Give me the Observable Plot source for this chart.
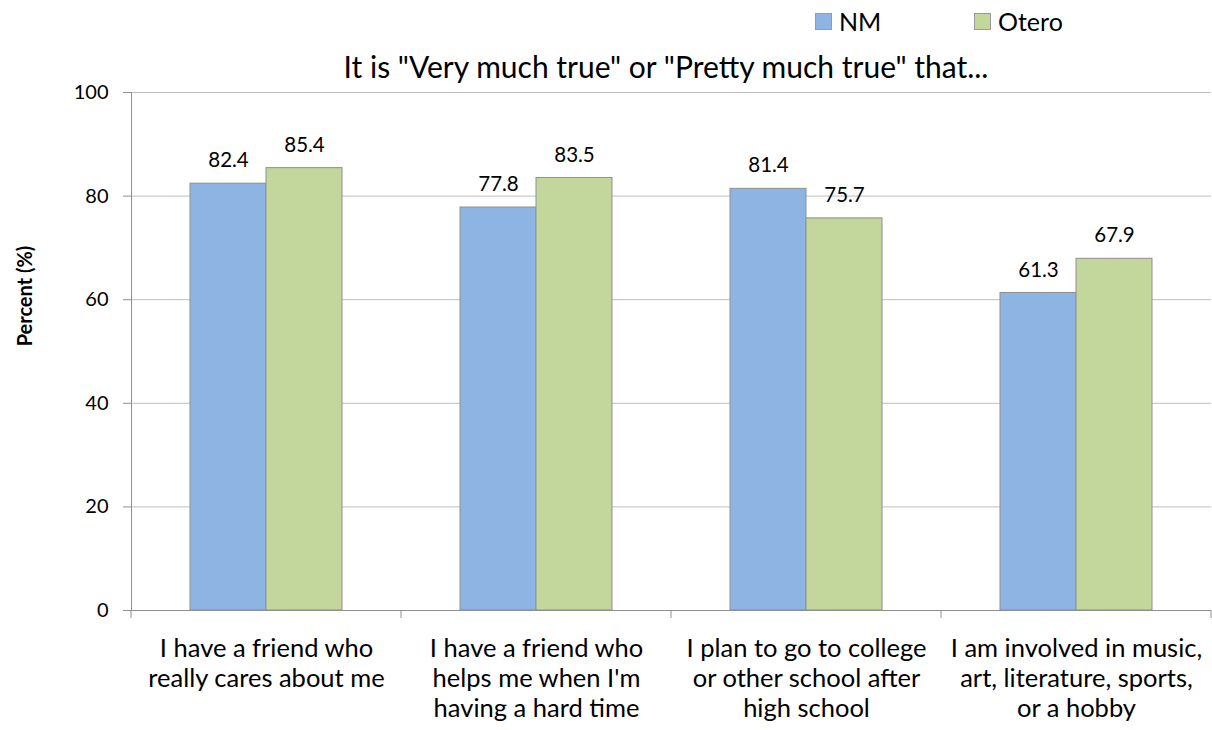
<!DOCTYPE html>
<html>
<head>
<meta charset="utf-8">
<script src="https://cdn.jsdelivr.net/npm/d3@7"></script>
<script src="https://cdn.jsdelivr.net/npm/@observablehq/plot@0.6"></script>
<style>
  html, body { margin: 0; padding: 0; background: #fff; }
  body { width: 1212px; height: 730px; position: relative; font-family: Lato, "Open Sans", sans-serif; color: #000; overflow: hidden; }
  .sw { position: absolute; width: 17px; height: 17px; box-sizing: border-box; border: 1px solid #9a9a9a; }
  .lt { position: absolute; font-size: 25px; line-height: 30px; white-space: nowrap; }
  #title { position: absolute; top: 48px; left: 166px; width: 1000px; text-align: center; font-size: 30px; line-height: 36px; z-index: 2; white-space: nowrap; }
  #chart { position: absolute; top: 72px; left: 0; z-index: 1; }
  #ylabel { position: absolute; left: 24px; top: 296px; transform: translate(-50%, -50%) rotate(-90deg); font-size: 20px; font-weight: bold; white-space: nowrap; z-index: 2; }
</style>
</head>
<body>
<div id="legend"></div>
<div id="title"></div>
<div id="chart"></div>
<div id="ylabel"></div>
<script>
const categories = [
  "I have a friend who really cares about me",
  "I have a friend who helps me when I'm having a hard time",
  "I plan to go to college or other school after high school",
  "I am involved in music, art, literature, sports, or a hobby"
];
const categoryLabels = [
  "I have a friend who\nreally cares about me",
  "I have a friend who\nhelps me when I'm\nhaving a hard time",
  "I plan to go to college\nor other school after\nhigh school",
  "I am involved in music,\nart, literature, sports,\nor a hobby"
];
const seriesNames = ["NM", "Otero"];
const seriesColors = ["#8EB4E3", "#C3D69B"];
const nmValues = [82.4, 77.8, 81.4, 61.3];
const oteroValues = [85.4, 83.5, 75.7, 67.9];
const yTicks = [0, 20, 40, 60, 80, 100];
const titleText = 'It is "Very much true" or "Pretty much true" that...';
const yLabelText = "Percent (%)";

const data = [];
categories.forEach((c, i) => {
  data.push({category: c, series: "NM", value: nmValues[i]});
  data.push({category: c, series: "Otero", value: oteroValues[i]});
});

document.getElementById("title").textContent = titleText;
document.getElementById("ylabel").textContent = yLabelText;
const legend = document.getElementById("legend");
const legendX = [815, 974];
seriesNames.forEach((s, i) => {
  const sw = document.createElement("span");
  sw.className = "sw";
  sw.style.left = legendX[i] + "px";
  sw.style.top = "13px";
  sw.style.background = seriesColors[i];
  legend.appendChild(sw);
  const t = document.createElement("span");
  t.className = "lt";
  t.style.left = (legendX[i] + 24) + "px";
  t.style.top = "6px";
  t.textContent = s;
  legend.appendChild(t);
});

const chart = Plot.plot({
  width: 1212,
  height: 658,
  marginTop: 20,
  marginBottom: 120,
  marginLeft: 130,
  marginRight: 0,
  style: {fontFamily: "Lato, 'Open Sans', sans-serif", color: "#000", background: "transparent", overflow: "visible"},
  fx: {domain: categories, paddingInner: 0, paddingOuter: 0, label: null},
  x: {domain: seriesNames, paddingInner: 0, paddingOuter: 0.766, axis: null},
  y: {domain: [0, 100], label: null},
  color: {domain: seriesNames, range: seriesColors},
  marks: [
    Plot.ruleY(yTicks.filter(d => d > 0), {stroke: "#bfbfbf", strokeWidth: 1}),
    Plot.barY(data, {fx: "category", x: "series", y: "value", fill: "series", stroke: "#8f8f8f", strokeWidth: 1}),
    Plot.text(data, {fx: "category", x: "series", y: "value", text: d => d.value.toFixed(1), dy: -23, fontSize: 20.5, fill: "#000"}),
    Plot.ruleY([0], {stroke: "#8f8f8f", strokeWidth: 1}),
    Plot.frame({anchor: "left", facetAnchor: "left", stroke: "#8f8f8f"}),
    Plot.axisY({ticks: yTicks, tickSize: 8, tickPadding: 15, fontSize: 20, stroke: "#8f8f8f", label: null, facetAnchor: "left"}),
    Plot.axisFx({anchor: "bottom", tickSize: 0, tickPadding: 25, fontSize: 25.5, lineHeight: 1.18, label: null,
      tickFormat: c => categoryLabels[categories.indexOf(c)]})
  ]
});

document.getElementById("chart").appendChild(chart);

// category separator ticks at band boundaries, from the fx scale
const fx = chart.scale("fx");
const y = chart.scale("y");
const svg = d3.select(chart);
const y0 = y.apply(0);
const bounds = categories.map(c => fx.apply(c));
bounds.push(fx.apply(categories[categories.length - 1]) + fx.bandwidth);
svg.append("g").selectAll("line").data(bounds).join("line")
  .attr("x1", d => d).attr("x2", d => d)
  .attr("y1", y0).attr("y2", y0 + 8)
  .attr("stroke", "#8f8f8f").attr("stroke-width", 1);
</script>
</body>
</html>
